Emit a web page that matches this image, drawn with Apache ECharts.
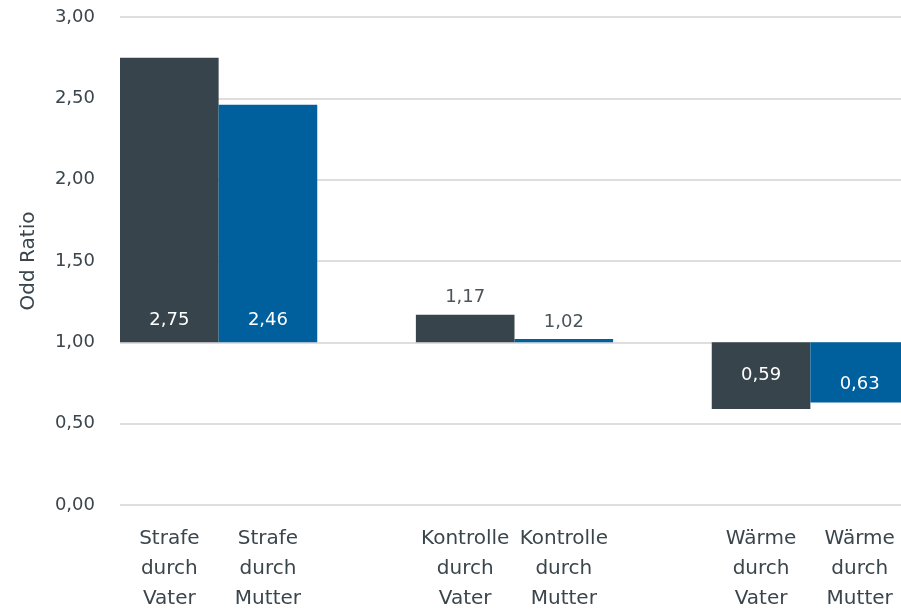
<!DOCTYPE html>
<html>
<head>
<meta charset="utf-8">
<script src="https://cdn.jsdelivr.net/npm/echarts@6/dist/echarts.min.js"></script>
<style>
html,body{margin:0;padding:0;background:#fff;}
#chart{width:901px;height:611px;}
</style>
</head>
<body>
<div id="chart"></div>
<script>
// Data
const categories = ["Strafe\ndurch\nVater", "Strafe\ndurch\nMutter", "", "Kontrolle\ndurch\nVater", "Kontrolle\ndurch\nMutter", "", "Wärme\ndurch\nVater", "Wärme\ndurch\nMutter"];
const oddRatios = [2.75, 2.46, null, 1.17, 1.02, null, 0.59, 0.63];
const parent = ["Vater", "Mutter", null, "Vater", "Mutter", null, "Vater", "Mutter"];
const yTicks = [0, 0.5, 1, 1.5, 2, 2.5, 3];
const baseline = 1;

const fmt = v => v.toFixed(2).replace('.', ',');
const colorFor = {Vater: '#38444b', Mutter: '#00609e'};
const textColor = '#3a454c';
const font = 'DejaVu Sans';

const labelStyle = (v, i) => {
  if (v >= 1.4) return {position: 'insideBottom', distance: 13, color: '#ffffff'};
  if (v >= 1) return {position: 'top', distance: 8, color: '#4a545a'};
  if (v < 0.6) return {position: 'inside', offset: [0, 0], color: '#ffffff'};
  return {position: 'insideBottom', distance: 9, color: '#ffffff'};
};

const baseData = oddRatios.map(v => v == null ? null : Math.min(v, baseline));
const deltaData = oddRatios.map((v, i) => v == null ? null : {
  value: Math.abs(v - baseline),
  itemStyle: {color: colorFor[parent[i]]},
  label: Object.assign({show: true, formatter: () => fmt(v)}, labelStyle(v, i))
});

const chart = echarts.init(document.getElementById('chart'), null, {renderer: 'canvas'});
chart.setOption({
  animation: false,
  grid: {left: 120, width: 789, top: 17, bottom: 106, outerBoundsMode: 'none', containLabel: false},
  xAxis: {
    type: 'category',
    data: categories,
    axisLine: {show: false},
    axisTick: {show: false},
    axisLabel: {interval: 0, color: textColor, fontFamily: font, fontSize: 20, lineHeight: 30, margin: 19, align: 'center'}
  },
  yAxis: {
    type: 'value',
    min: 0, max: 3, interval: 0.5,
    name: 'Odd Ratio',
    nameLocation: 'middle',
    nameGap: 81,
    nameTextStyle: {color: textColor, fontFamily: font, fontSize: 20},
    axisLine: {show: false},
    axisTick: {show: false},
    axisLabel: {color: textColor, fontFamily: font, fontSize: 18, margin: 25, formatter: v => yTicks.includes(v) ? fmt(v) : ''},
    splitLine: {lineStyle: {color: '#dedede', width: 2}}
  },
  series: [
    {type: 'bar', stack: 'or', data: baseData, itemStyle: {color: 'transparent'}, barCategoryGap: '0%', silent: true},
    {type: 'bar', stack: 'or', data: deltaData, barCategoryGap: '0%',
     label: {show: true, fontFamily: font, fontSize: 18}}
  ]
});
</script>
</body>
</html>
